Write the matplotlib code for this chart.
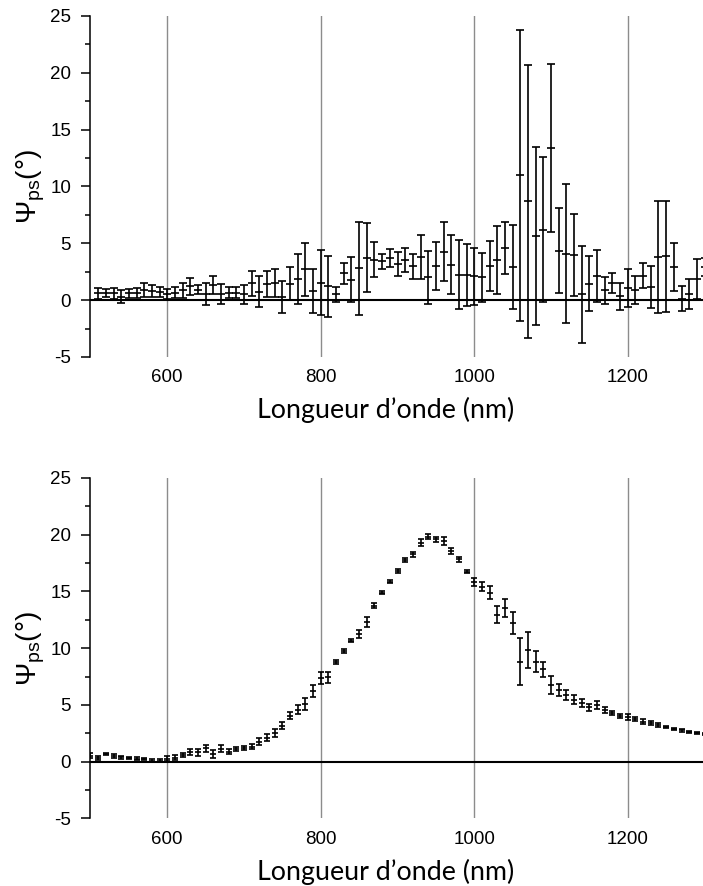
import numpy as np
import matplotlib
matplotlib.use('Agg')
import matplotlib.pyplot as plt
from matplotlib.ticker import MultipleLocator

plt.rcParams['font.family'] = ['Liberation Sans', 'DejaVu Sans']
plt.rcParams['axes.unicode_minus'] = False

# panneau du haut : longueur d'onde (nm), Psi_ps (deg), barre d'erreur
lam_haut = list(range(510, 1310, 10))
psi_haut = [0.6, 0.6, 0.6, 0.3, 0.6, 0.6, 0.9, 0.8, 0.7, 0.55,
            0.65, 0.85, 1.2, 0.9, 0.55, 1.3, 0.55, 0.65, 0.65, 0.5,
            1.5, 0.75, 1.45, 1.5, 0.25, 1.45, 1.9, 2.7, 0.8, 1.55,
            1.2, 0.5, 2.35, 1.8, 2.8, 3.75, 3.55, 3.4, 3.7, 3.15,
            3.55, 3.0, 3.8, 2.0, 3.0, 4.25, 3.1, 2.25, 2.2, 2.1,
            2.0, 3.0, 3.5, 4.6, 2.9, 11.0, 8.7, 5.65, 6.2, 13.4,
            4.35, 4.1, 4.0, 0.5, 1.45, 2.1, 0.85, 1.5, 0.35, 1.05,
            0.9, 2.15, 1.15, 3.8, 3.85, 2.9, 0.1, 0.55, 1.85, 2.95]
err_haut = [0.5, 0.35, 0.5, 0.55, 0.4, 0.45, 0.6, 0.5, 0.45, 0.45,
            0.5, 0.65, 0.75, 0.4, 0.95, 0.8, 0.85, 0.5, 0.5, 0.85,
            1.1, 1.35, 1.15, 1.2, 1.4, 1.45, 2.2, 2.35, 1.9, 2.85,
            2.7, 0.65, 0.9, 2.0, 4.1, 3.0, 1.55, 0.65, 0.8, 1.05,
            1.05, 1.1, 1.9, 2.3, 2.15, 2.6, 2.6, 3.05, 2.7, 2.5,
            2.15, 2.2, 3.0, 2.3, 3.7, 12.8, 12.0, 7.8, 6.4, 7.4,
            3.75, 6.15, 3.6, 4.3, 2.45, 2.3, 1.15, 0.9, 1.2, 1.65,
            1.25, 1.1, 1.85, 4.95, 4.9, 2.1, 1.1, 1.3, 1.75, 0.8]

# panneau du bas
lam_bas = list(range(500, 1310, 10))
psi_bas = [0.53, 0.3, 0.65, 0.5, 0.38, 0.3, 0.27, 0.21, 0.09, 0.09,
           0.27, 0.35, 0.59, 0.82, 0.82, 1.18, 0.65, 1.15, 0.88, 1.09,
           1.18, 1.32, 1.77, 2.12, 2.5, 3.15, 4.06, 4.56, 5.09, 6.23,
           7.35, 7.44, 8.76, 9.76, 10.66, 11.22, 12.34, 13.75, 14.9, 15.86,
           16.8, 17.77, 18.27, 19.3, 19.83, 19.6, 19.48, 18.57, 17.83, 16.74,
           15.86, 15.42, 14.9, 12.93, 13.52, 12.2, 8.81, 9.84, 8.81, 8.14,
           6.76, 6.32, 5.88, 5.44, 5.15, 4.8, 5.0, 4.56, 4.27, 4.03,
           3.91, 3.74, 3.53, 3.39, 3.24, 3.04, 2.86, 2.75, 2.63, 2.51, 2.42]
err_bas = [0.25, 0.15, 0.1, 0.15, 0.12, 0.1, 0.1, 0.1, 0.1, 0.1,
           0.2, 0.2, 0.2, 0.25, 0.3, 0.3, 0.35, 0.3, 0.25, 0.2,
           0.2, 0.25, 0.3, 0.3, 0.35, 0.3, 0.3, 0.4, 0.55, 0.5,
           0.55, 0.5, 0.2, 0.2, 0.15, 0.35, 0.45, 0.2, 0.15, 0.15,
           0.15, 0.15, 0.25, 0.3, 0.2, 0.2, 0.35, 0.3, 0.2, 0.15,
           0.35, 0.4, 0.6, 0.75, 0.8, 0.95, 2.05, 1.6, 0.9, 0.65,
           0.8, 0.5, 0.45, 0.4, 0.35, 0.3, 0.35, 0.25, 0.2, 0.2,
           0.25, 0.2, 0.2, 0.2, 0.15, 0.1, 0.1, 0.1, 0.1, 0.1, 0.1]

grille = [600, 800, 1000, 1200]

fig = plt.figure(figsize=(7.03, 8.86), dpi=100)
ax1 = fig.add_axes([0.1287, 0.5971, 0.8713, 0.3849])
ax2 = fig.add_axes([0.1287, 0.0764, 0.8713, 0.3841])


def tracer(ax, x, y, e, cap, labely):
    for g in grille:
        ax.axvline(g, color='#8c8c8c', lw=1.0, zorder=1)
    ax.axhline(0, color='black', lw=1.5, zorder=2)
    ax.errorbar(x, y, yerr=e, fmt='_', color='black', ms=cap * 2,
                mew=1.2, elinewidth=1.2, capsize=cap, capthick=1.2, zorder=3)
    ax.set_xlim(500, 1298)
    ax.set_ylim(-5, 25)
    ax.set_xticks(grille)
    ax.yaxis.set_major_locator(MultipleLocator(5))
    ax.yaxis.set_minor_locator(MultipleLocator(2.5))
    for s in ['top', 'right', 'bottom']:
        ax.spines[s].set_visible(False)
    ax.spines['left'].set_linewidth(1.1)
    ax.tick_params(axis='x', length=0, pad=9, labelsize=13.5)
    ax.tick_params(axis='y', which='major', length=6.5, width=1.1, pad=7.5, labelsize=13.5)
    ax.tick_params(axis='y', which='minor', length=3.4, width=1.1)
    ax.set_ylabel('Ψ$_\\mathregular{ps}$(°)', fontsize=20)
    ax.yaxis.label.set_va('center')
    ax.yaxis.set_label_coords(-0.097, 0.5)
    ax.set_xlabel('Longueur d\u2019onde (nm)', fontsize=19.3, family=['Lato', 'DejaVu Sans'])
    ax.xaxis.label.set_va('center')
    ax.xaxis.set_label_coords(0.4816, labely)


tracer(ax1, lam_haut, psi_haut, err_haut, 3.2, -0.155)
tracer(ax2, lam_bas, psi_bas, err_bas, 2.4, -0.157)

fig.savefig('out.png', dpi=100)
